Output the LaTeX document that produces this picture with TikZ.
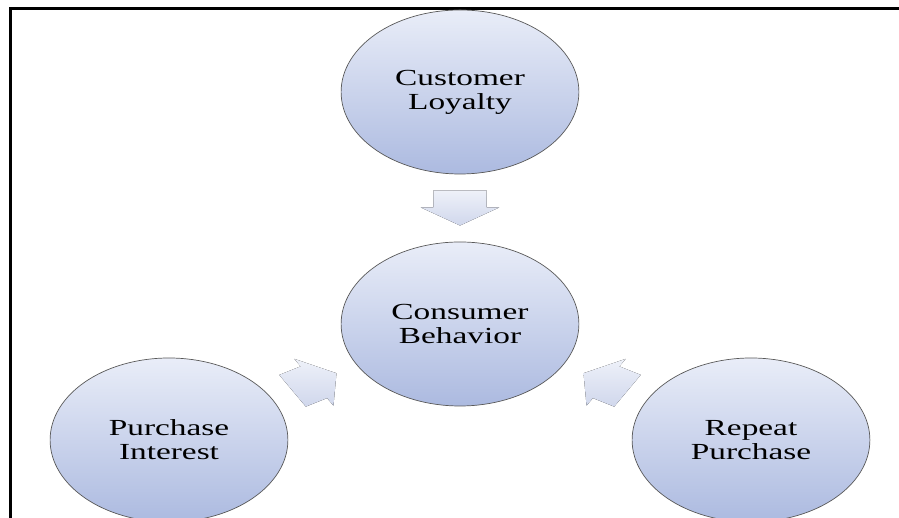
\documentclass[tikz,border=0pt]{standalone}
\usepackage{fontspec}
\setmainfont{Liberation Serif}
\usetikzlibrary{calc}

\definecolor{bubbletop}{RGB}{233,237,248}
\definecolor{bubblebot}{RGB}{172,186,224}
\definecolor{arrowtop}{RGB}{238,241,249}
\definecolor{arrowbot}{RGB}{208,215,236}

\tikzstyle{bubble} = [circle, minimum size=164pt, inner sep=0pt,
draw=black!65, line width=0.7pt, top color=bubbletop, bottom color=bubblebot,
align=center, xscale=1.45, font=\fontsize{23}{24}\selectfont]
\tikzset{flowarrow/.pic={
  \fill[top color=arrowtop, bottom color=arrowbot] (-17.5,-18.3) -- (-0.5,-18.3)
  -- (-0.5,-27) -- (17.5,0) -- (-0.5,27) -- (-0.5,18.3) -- (-17.5,18.3) -- cycle;
}}

\begin{document}
\begin{tikzpicture}[x=1pt, y=1pt]
\useasboundingbox (0,0) rectangle (899,518);
\clip (0,0) rectangle (899,518);

\draw[line width=2.2pt] (10.5,0) |- (899,509.5);

\node(behav)[bubble] at (460,194) {Consumer\\Behavior};
\node(loyal)[bubble] at (460,426) {Customer\\Loyalty};
\node(interest)[bubble] at (169,78) {Purchase\\Interest};
\node(repeat)[bubble] at (751,78) {Repeat\\Purchase};

\pic(arrLoyal)[xscale=1.45, rotate=-90] at ($(loyal)!0.5!(behav)$) {flowarrow};
\pic(arrInterest)[xscale=1.45, rotate=30] at ($(interest)!0.5!(behav)$) {flowarrow};
\pic(arrRepeat)[xscale=1.45, rotate=150] at ($(repeat)!0.5!(behav)$) {flowarrow};

\end{tikzpicture}
\end{document}
